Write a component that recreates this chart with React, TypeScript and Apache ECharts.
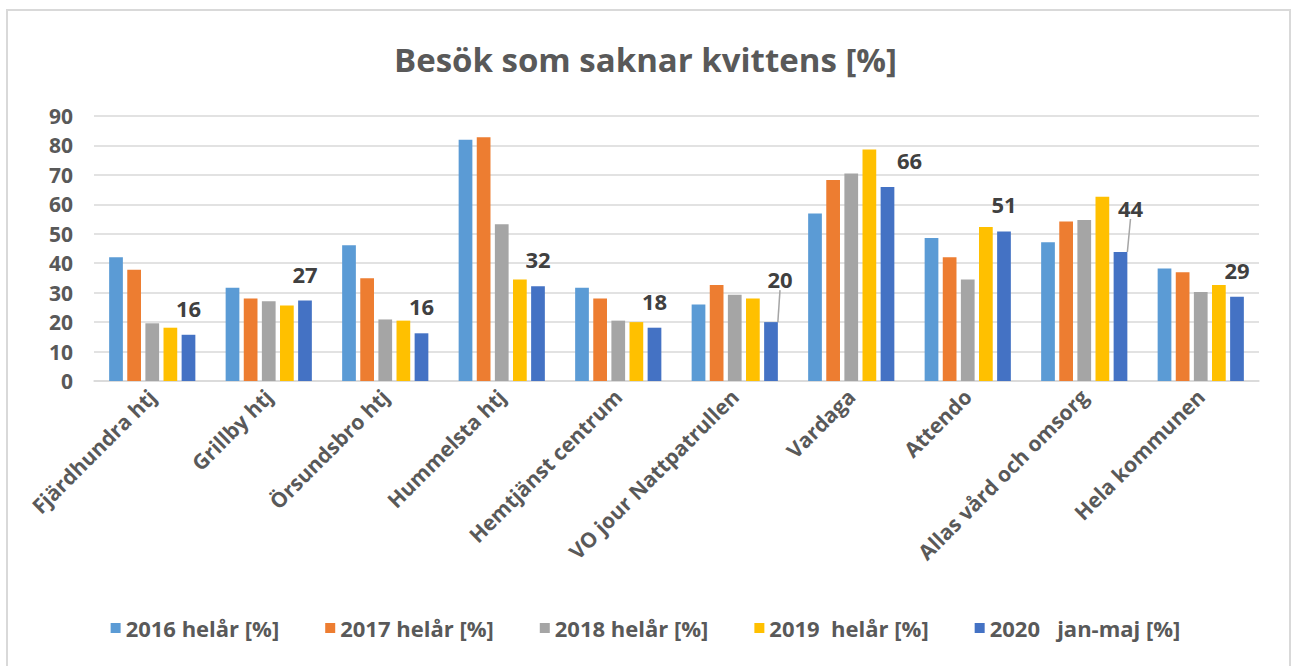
import React, { useEffect, useRef } from "react";
import * as echarts from "echarts";

const categories = [
  "Fjärdhundra htj",
  "Grillby htj",
  "Örsundsbro htj",
  "Hummelsta htj",
  "Hemtjänst centrum",
  "VO jour Nattpatrullen",
  "Vardaga",
  "Attendo",
  "Allas vård och omsorg",
  "Hela kommunen",
];

const seriesNames = [
  "2016 helår [%]",
  "2017 helår [%]",
  "2018 helår [%]",
  "2019\u00a0 helår [%]",
  "2020 \u00a0\u00a0jan-maj [%]",
];

const v2016 = [42, 31.7, 46.1, 81.9, 31.7, 26, 56.9, 48.6, 47.1, 38.2];
const v2017 = [37.8, 28, 34.9, 82.8, 28, 32.6, 68.3, 42, 54.2, 36.9];
const v2018 = [19.6, 27.1, 20.9, 53.2, 20.5, 29.3, 70.5, 34.5, 54.7, 30.2];
const v2019 = [18.1, 25.6, 20.5, 34.5, 20, 28, 78.6, 52.3, 62.6, 32.6];
const v2020 = [15.7, 27.3, 16.2, 32.2, 18.1, 20, 65.9, 50.8, 43.8, 28.6];

const yTicks = [0, 10, 20, 30, 40, 50, 60, 70, 80, 90];

const colors = ["#5B9BD5", "#ED7D31", "#A5A5A5", "#FFC000", "#4472C4"];

const FONT = "'Open Sans', Lato, sans-serif";
const TEXT = "#595959";

export default function App() {
  const ref = useRef<HTMLDivElement>(null);
  useEffect(() => {
    const chart = echarts.init(ref.current!, null, { renderer: "svg" });
    const values = [v2016, v2017, v2018, v2019, v2020];
    const labelShift: Record<number, { dx: number; dy: number; line?: boolean }> = {
      5: { dx: 9, dy: -16, line: true },
      6: { dx: 22, dy: 0 },
      8: { dx: 10, dy: -17, line: true },
    };
    const series: any[] = values.map((vals, i) => ({
      name: seriesNames[i],
      type: "bar",
      data: vals.map((v, j) =>
        i === 4 && labelShift[j]?.line ? { value: v, labelLine: { show: true } } : v
      ),
      itemStyle: { color: colors[i] },
      barGap: "32%",
      barCategoryGap: "26%",
      label:
        i === 4
          ? {
              show: true,
              position: "top",
              distance: 16,
              fontFamily: FONT,
              fontWeight: "bold",
              fontSize: 22,
              color: "#404040",
              formatter: (p: any) => Math.round(p.value).toString(),
            }
          : { show: false },
      labelLine:
        i === 4
          ? { show: false, lineStyle: { color: "#A5A5A5", width: 1.5 } }
          : undefined,
      labelLayout:
        i === 4
          ? (p: any) => {
              const s = labelShift[p.dataIndex];
              return s ? { dx: s.dx, dy: s.dy } : {};
            }
          : undefined,
    }));

    chart.setOption({
      animation: false,
      color: colors,
      title: {
        text: "Besök som saknar kvittens [%]",
        left: "center",
        top: 38,
        textStyle: {
          fontFamily: FONT,
          fontWeight: "bold",
          fontSize: 33,
          color: TEXT,
        },
      },
      grid: { left: 94, right: 32, top: 116, bottom: 285, containLabel: false },
      legend: {
        bottom: 22,
        left: "center",
        itemWidth: 10,
        itemHeight: 10,
        itemGap: 46,
        icon: "rect",
        textStyle: {
          fontFamily: FONT,
          fontWeight: "bold",
          fontSize: 22,
          color: TEXT,
        },
      },
      xAxis: {
        type: "category",
        data: categories,
        axisLine: { lineStyle: { color: "#D9D9D9", width: 1.5 } },
        axisTick: { show: false },
        axisLabel: {
          rotate: 45,
          interval: 0,
          margin: 12,
          fontFamily: FONT,
          fontWeight: "bold",
          fontSize: 21,
          color: TEXT,
        },
      },
      yAxis: {
        type: "value",
        min: 0,
        max: 90,
        interval: 10,
        axisLine: { show: false },
        axisTick: { show: false },
        splitLine: { lineStyle: { color: "#D9D9D9", width: 1.5 } },
        axisLabel: {
          margin: 21,
          fontFamily: FONT,
          fontWeight: "bold",
          fontSize: 21,
          color: TEXT,
          formatter: (v: number) => (yTicks.includes(v) ? String(v) : ""),
        },
      },
      graphic: [
        {
          type: "rect",
          shape: { x: 7, y: 10, width: 1283, height: 670 },
          style: { fill: "none", stroke: "#D9D9D9", lineWidth: 2 },
          silent: true,
          z: -1,
        },
      ],
      series,
    });
    return () => chart.dispose();
  }, []);
  return (
    <div
      ref={ref}
      style={{ position: "fixed", left: 0, top: 0, width: 1291, height: 666, background: "#fff" }}
    />
  );
}
